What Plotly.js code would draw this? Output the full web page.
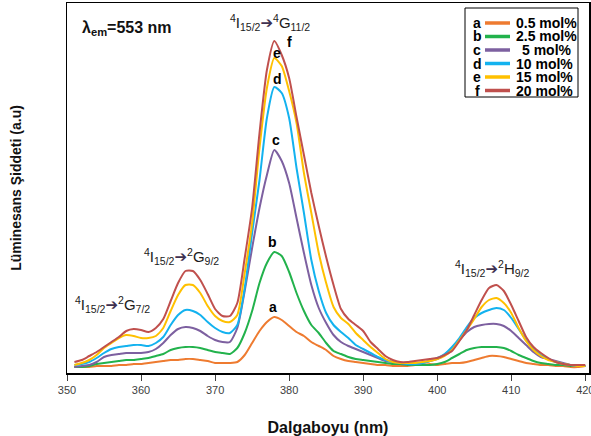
<!DOCTYPE html>
<html>
<head>
<meta charset="utf-8">
<script src="https://cdn.plot.ly/plotly-3.0.1.min.js"></script>
<style>html,body{margin:0;padding:0;background:#fff;}#chart{width:591px;height:436px;}</style>
</head>
<body>
<div id="chart"></div>
<script>
// Wavelength (nm)
const wavelength = [351,352,353,354,355,356,357,358,359,360,361,362,363,364,365,366,367,368,369,370,
  371,372,373,374,375,376,377,378,379,380,381,382,383,384,385,386,387,388,389,390,
  391,392,393,394,395,396,397,398,399,400,401,402,403,404,405,406,407,408,409,410,
  411,412,413,414,415,416,417,418,419,420];

// a: 0.5 mol%
const serA = [6,6,6,7,7,7,8,8,9,9,10,11,12,13,13,14,14,13,12,10,
  10,10,11,18,30,42,51,56,53,47,41,37,31,27,23,17,14,12,11,10,
  9,8,8,7,7,7,8,8,9,8,9,10,10,11,13,15,17,17,16,14,
  12,10,9,8,8,7,7,6,6,7];
// b: 2.5 mol%
const serB = [6,6,7,9,10,11,12,13,13,14,15,17,19,23,25,26,26,25,23,21,
  20,19,25,40,62,90,110,121,117,101,80,62,48,40,30,22,19,16,14,13,
  12,11,10,9,9,8,8,8,8,9,11,15,19,23,25,26,26,26,25,22,
  18,15,12,10,9,8,8,7,7,7];
// c: 5 mol%
const serC = [6,7,8,11,16,18,19,20,20,20,21,24,30,38,44,46,45,42,37,33,
  31,31,45,82,125,165,198,223,212,190,155,120,88,65,50,38,31,27,24,21,
  18,15,12,11,10,9,9,10,12,14,18,25,33,41,46,48,49,49,47,42,
  35,28,21,16,14,12,10,8,7,7];
// d: 10 mol%
const serD = [8,9,11,15,20,24,26,27,28,28,27,30,36,48,58,63,62,58,51,45,
  41,40,48,85,140,193,255,286,280,255,205,160,113,82,60,48,41,35,28,24,
  20,16,13,11,10,9,9,10,12,15,19,26,35,46,55,60,63,65,63,55,
  44,33,24,18,14,11,9,8,7,7];
// e: 15 mol%
const serE = [8,10,13,18,25,30,35,38,37,35,35,37,45,62,78,88,88,80,67,57,
  52,51,58,100,150,225,285,315,307,282,250,200,160,120,90,66,55,49,40,33,
  26,20,14,11,10,10,10,11,12,14,17,23,33,43,54,66,73,75,70,60,
  45,32,23,17,13,11,9,8,7,7];
// f: 20 mol%
const serF = [11,13,17,21,26,31,36,42,44,43,41,45,54,72,90,102,102,93,79,64,
  57,57,70,115,165,240,303,332,318,295,256,218,180,147,116,88,64,54,48,42,
  31,24,17,13,11,11,12,13,14,15,18,22,32,43,58,73,85,88,82,68,
  52,36,26,20,15,11,9,8,8,8];

const letters = ['a','b','c','d','e','f'];
const labels = ['0.5 mol%','2.5 mol%','5 mol%','10 mol%','15 mol%','20 mol%'];
const colors = ['#EE7B30','#22B24C','#7D60A0','#13B2EF','#FFC000','#C0504D'];
const series = [serA, serB, serC, serD, serE, serF];

// peak letter label positions (nm, intensity)
const peakLetterX = [377.8,377.8,378.2,378.4,378.4,380.1];
const peakLetterY = [66,131,233,294,320,331];

const traces = series.map((s,i)=>({
  x: wavelength, y: s, type:'scatter', mode:'lines', name: labels[i],
  line:{color:colors[i], width:2, shape:'spline', smoothing:0.6},
  showlegend:false, hoverinfo:'skip'
}));

// plot area pixel geometry helpers (for the hand-drawn legend only)
const L=67, R=589, T=3, B=373;
const px = v => (v-L)/(R-L);
const py = v => (B-v)/(B-T);

const ann = [];
const shapes = [];
const FAM = 'Liberation Sans, Arial, sans-serif';
const trFont = {family:FAM, size:15, color:'#1a1a1a'};
const arrow = '<span style="font-family:DejaVu Sans;color:#3F3151">➔</span>';
function trans(x,y,t){
  ann.push({xref:'x',yref:'y',x:x,y:y,xanchor:'center',yanchor:'middle',text:t,showarrow:false,font:trFont});
}
trans(377.4,351,'<sup>4</sup>I<sub>15/2</sub>'+arrow+'<sup>4</sup>G<sub>11/2</sub>');
trans(365.5,117,'<sup>4</sup>I<sub>15/2</sub>'+arrow+'<sup>2</sup>G<sub>9/2</sub>');
trans(356.2,69,'<sup>4</sup>I<sub>15/2</sub>'+arrow+'<sup>2</sup>G<sub>7/2</sub>');
trans(407.4,105,'<sup>4</sup>I<sub>15/2</sub>'+arrow+'<sup>2</sup>H<sub>9/2</sub>');
ann.push({xref:'x',yref:'y',x:351.8,y:345,xanchor:'left',yanchor:'middle',text:'<b>λ<sub>em</sub>=553 nm</b>',showarrow:false,
  font:{family:FAM, size:16, color:'#111'}});

letters.forEach((l,i)=>{
  ann.push({xref:'x',yref:'y',x:peakLetterX[i],y:peakLetterY[i],xanchor:'center',yanchor:'middle',text:'<b>'+l+'</b>',showarrow:false,
    font:{family:FAM, size:14, color:'#000'}});
});

// legend box
shapes.push({type:'rect',xref:'paper',yref:'paper',x0:px(465),x1:px(578),y0:py(8),y1:py(97),
  line:{color:'#000',width:1},fillcolor:'#fff',layer:'above'});
const rowY = [23,36.5,50,63.5,77,90.5];
letters.forEach((l,i)=>{
  ann.push({xref:'paper',yref:'paper',x:px(477),y:py(rowY[i]),xanchor:'center',yanchor:'middle',text:'<b>'+l+'</b>',showarrow:false,
    font:{family:FAM, size:14, color:'#000'}});
  shapes.push({type:'line',xref:'paper',yref:'paper',x0:px(485),x1:px(510),y0:py(rowY[i]),y1:py(rowY[i]),
    line:{color:colors[i],width:3.5},layer:'above'});
  ann.push({xref:'paper',yref:'paper',x:px(i===2?520:514),y:py(rowY[i]),xanchor:'left',yanchor:'middle',text:'<b>'+labels[i]+'</b>',showarrow:false,
    font:{family:FAM, size:14, color:'#000'}});
});

const layout = {
  width:591, height:436,
  margin:{l:L, r:591-R, t:T, b:436-B},
  paper_bgcolor:'#fff', plot_bgcolor:'#fff',
  showlegend:false,
  xaxis:{range:[350,420.5], tickvals:[350,360,370,380,390,400,410,420], ticks:'outside', ticklen:6, tickcolor:'#404040',
    ticklabeloverflow:'allow',
    showline:true, linecolor:'#000', linewidth:1.5, mirror:true, showgrid:false, zeroline:false,
    tickfont:{family:FAM, size:11, color:'#404040'},
    title:{text:'<b>Dalgaboyu (nm)</b>', standoff:28, font:{family:FAM, size:16, color:'#111'}}},
  yaxis:{range:[0,370], showticklabels:false, ticks:'', showline:true, linecolor:'#000', linewidth:1.5, mirror:true,
    showgrid:false, zeroline:false,
    title:{text:'<b>Lüminesans Şiddeti (a.u)</b>', standoff:40, font:{family:FAM, size:14, color:'#111'}}},
  annotations: ann,
  shapes: shapes
};

Plotly.newPlot('chart', traces, layout, {staticPlot:true, displayModeBar:false});
</script>
</body>
</html>
